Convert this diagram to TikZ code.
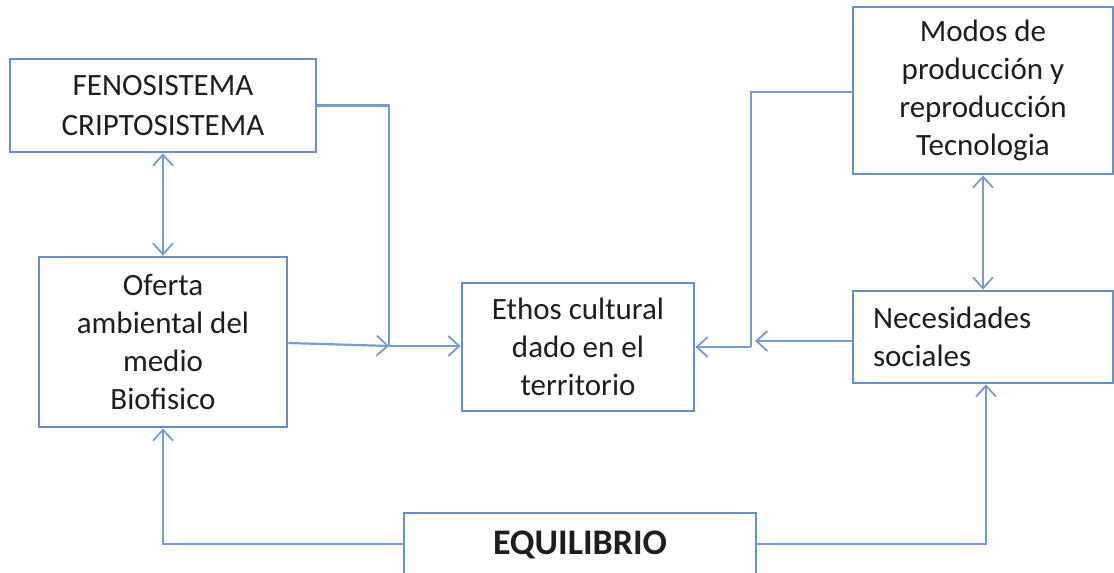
\documentclass[tikz,border=0pt]{standalone}
\usepackage{fontspec}
\setmainfont{Carlito}
\usetikzlibrary{arrows.meta}
\definecolor{boxblue}{RGB}{104,144,198}
\definecolor{lineblue}{RGB}{118,156,206}
\definecolor{txt}{RGB}{30,30,30}
\tikzset{
  blk/.style={draw=boxblue, line width=2.8pt, fill=white, inner sep=0pt, text=txt,
    font=\fontsize{31}{38}\selectfont, align=center},
  conn/.style={draw=lineblue, line width=2.2pt},
  tip/.style={-{Straight Barb[length=11pt,width=20pt,line width=1.8pt]}},
  tips/.style={{Straight Barb[length=11pt,width=20pt,line width=1.8pt]}-{Straight Barb[length=11pt,width=20pt,line width=1.8pt]}}
}
\begin{document}
\begin{tikzpicture}[x=1pt,y=-1pt]
\clip (0,0) rectangle (1114,573);
\fill[white] (0,0) rectangle (1114,573);

\node[blk, minimum width=306pt, minimum height=93pt, font=\fontsize{31}{40}\selectfont] (feno) at (163,105.5) {FENOSISTEMA\\CRIPTOSISTEMA};
\node[blk, minimum width=248pt, minimum height=170pt] (ofer) at (163,342) {Oferta\\ambiental del\\medio\\Biofisico};
\node[blk, minimum width=232pt, minimum height=128pt] (ethos) at (578,347) {Ethos cultural\\dado en el\\territorio};
\node[blk, minimum width=260pt, minimum height=167pt] (modos) at (983,90.5) {Modos de\\producción y\\reproducción\\Tecnologia};
\node[blk, minimum width=260pt, minimum height=92pt, align=left, text width=220pt] (nec) at (983,337) {Necesidades\\sociales};
\node[blk, minimum width=352pt, minimum height=64pt, font=\fontsize{36}{40}\selectfont\bfseries] (equi) at (580,545) {EQUILIBRIO};

% junction coordinates
\coordinate (j1) at (389,105.5);
\coordinate (j2) at (389,346);
\coordinate (j3) at (751,92);
\coordinate (j4) at (751,347);
\coordinate (j5) at (163,544);
\coordinate (j6) at (986,544);
\coordinate (j7) at (986,383);
\coordinate (j8) at (755,341);

\draw[conn, tips] (feno.south) -- (ofer.north);
\draw[conn, tips] (modos.south) -- (nec.north);
\draw[conn] (feno.east |- j1) -- (j1) -- (j2);
\draw[conn, tip] (j2) -- (ethos.west |- j2);
\draw[conn, tip] (ofer.east |- 0,343) -- (j2);
\draw[conn] (modos.west |- j3) -- (j3) -- (j4);
\draw[conn, tip] (j4) -- (ethos.east |- j4);
\draw[conn, tip] (nec.west |- j8) -- (j8);
\draw[conn, tip] (equi.west |- j5) -- (j5) -- (ofer.south);
\draw[conn, tip] (equi.east |- j6) -- (j6) -- (j7 |- nec.south);
\end{tikzpicture}
\end{document}
